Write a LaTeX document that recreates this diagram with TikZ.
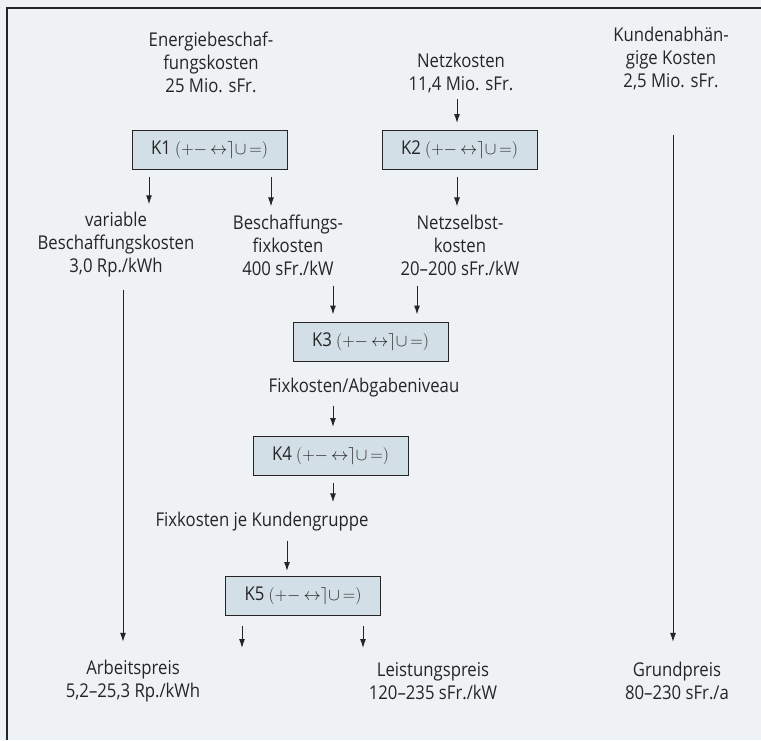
\documentclass[tikz,border=0pt]{standalone}
\usepackage{fontspec}
\setmainfont{Open Sans}[FakeStretch=0.88]
\usetikzlibrary{arrows.meta}
\definecolor{paper}{HTML}{EEF2F4}
\definecolor{boxfill}{HTML}{D3DFE6}
\definecolor{ink}{HTML}{252525}
\newcommand{\kops}{$(\mathord{+}\mathord{-}\,\mathord{\leftrightarrow}\rceil\mathord{\cup}\,\mathord{=})$}
\begin{document}
\begin{tikzpicture}[
                        x=1pt, y=-1pt,
                        >={Latex[length=9pt,width=6pt]},
                        every node/.style={text=ink, font=\fontsize{19}{23}\selectfont},
                        txt/.style={align=center, inner sep=0pt},
                        kbox/.style={rectangle, draw=ink, fill=boxfill, line width=1pt,
                                     minimum width=155pt, minimum height=39pt, inner sep=0pt},
                        conn/.style={->, draw=ink, line width=1pt}
                    ]
                    \useasboundingbox (0,0) rectangle (761,740);
                    \fill[paper] (0,0) rectangle (761,740);
                    \draw[ink, line width=1.2pt] (7,740) -- (7,8) -- (761,8);

                    % Blocks
                    \node [txt] (energie) at (211,62) {Energiebeschaf-\\fungskosten\\25 Mio. sFr.};
                    \node [txt] (netz) at (461,73) {Netzkosten\\11,4 Mio. sFr.};
                    \node [txt] (kunden) at (671,59) {Kundenabhän-\\gige Kosten\\2,5 Mio. sFr.};
                    \node [kbox] (K1) at (209.5,150) {K1 \kops};
                    \node [kbox] (K2) at (459.5,150) {K2 \kops};
                    \node [txt] (var) at (116,245) {variable\\Beschaffungskosten\\3,0 Rp./kWh};
                    \node [txt] (besch) at (288,245) {Beschaffungs-\\fixkosten\\400 sFr./kW};
                    \node [txt] (nselbst) at (460,245) {Netzselbst-\\kosten\\20--200 sFr./kW};
                    \node [kbox] (K3) at (370.5,341.5) {K3 \kops};
                    \node [txt] (abgabe) at (364,388) {Fixkosten/Abgabeniveau};
                    \node [kbox] (K4) at (330.5,456) {K4 \kops};
                    \node [txt] (gruppe) at (262,522) {Fixkosten je Kundengruppe};
                    \node [kbox] (K5) at (303,596) {K5 \kops};
                    \node [txt] (arbeit) at (133,681) {Arbeitspreis\\5,2--25,3 Rp./kWh};
                    \node [txt] (leistung) at (433,681) {Leistungspreis\\120--235 sFr./kW};
                    \node [txt] (grund) at (677,681) {Grundpreis\\80--230 sFr./a};
                    \coordinate (k5l) at (242,648);
                    \coordinate (k5r) at (363,648);

                    % Connections
                    \draw [conn, shorten <=6pt, shorten >=7pt] ([xshift=-4pt]netz.south) -- ([xshift=-2.5pt]K2.north);
                    \draw [conn, shorten <=7pt, shorten >=8pt] ([xshift=-60.5pt]K1.south) -- ([xshift=-60.5pt]K1.south |- var.north);
                    \draw [conn, shorten <=7pt, shorten >=8pt] ([xshift=61.5pt]K1.south) -- ([xshift=61.5pt]K1.south |- besch.north);
                    \draw [conn, shorten <=7pt, shorten >=8pt] ([xshift=-2.5pt]K2.south) -- ([xshift=-2.5pt]K2.south |- nselbst.north);
                    \draw [conn, shorten <=12pt, shorten >=18pt] ([xshift=7pt]var.south) -- ([xshift=-10pt]arbeit.north);
                    \draw [conn, shorten <=10pt, shorten >=7pt] ([xshift=45pt]besch.south) -- ([xshift=-37.5pt]K3.north);
                    \draw [conn, shorten <=10pt, shorten >=7pt] ([xshift=-43pt]nselbst.south) -- ([xshift=46.5pt]K3.north);
                    \draw [conn, shorten <=8pt, shorten >=9pt] ([xshift=-31pt]abgabe.south) -- ([xshift=2.5pt]K4.north);
                    \draw [conn, shorten <=7pt, shorten >=10pt] ([xshift=2.5pt]K4.south) -- ([xshift=71pt]gruppe.north);
                    \draw [conn, shorten <=9pt, shorten >=5pt] ([xshift=25pt]gruppe.south) -- ([xshift=-16pt]K5.north);
                    \draw [conn, shorten <=10pt] ([xshift=-61pt]K5.south) -- (k5l);
                    \draw [conn, shorten <=10pt] ([xshift=60pt]K5.south) -- (k5r);
                    \draw [conn, shorten <=44pt, shorten >=20pt] ([xshift=2pt]kunden.south) -- ([xshift=-4pt]grund.north);
                \end{tikzpicture}
\end{document}
